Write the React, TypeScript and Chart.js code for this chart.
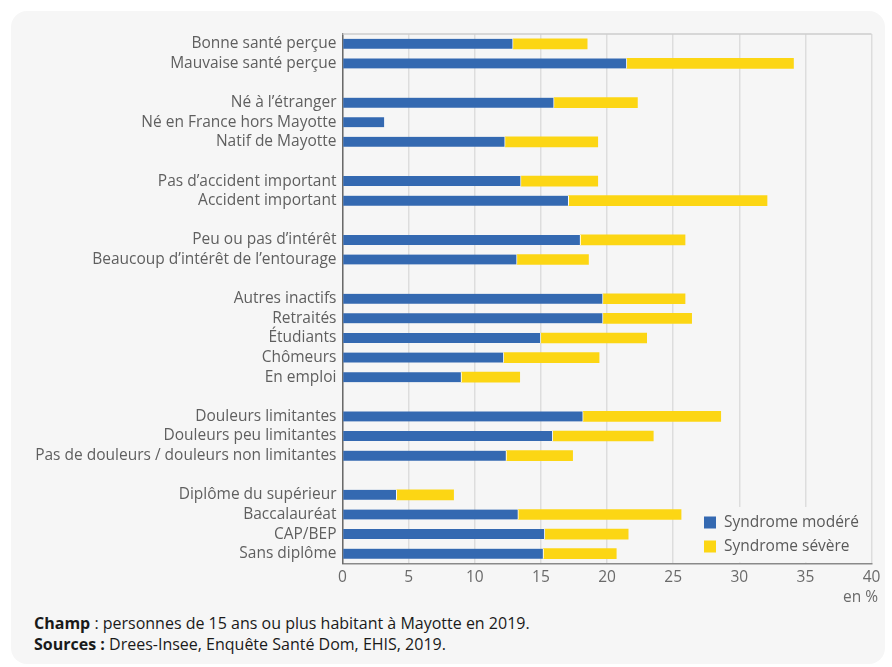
import React, { useEffect, useRef } from "react";
import { Chart, registerables } from "chart.js";

Chart.register(...registerables);

const categories: string[] = [
  "Bonne santé perçue",
  "Mauvaise santé perçue",
  "",
  "Né à l’étranger",
  "Né en France hors Mayotte",
  "Natif de Mayotte",
  "",
  "Pas d’accident important",
  "Accident important",
  "",
  "Peu ou pas d’intérêt",
  "Beaucoup d’intérêt de l’entourage",
  "",
  "Autres inactifs",
  "Retraités",
  "Étudiants",
  "Chômeurs",
  "En emploi",
  "",
  "Douleurs limitantes",
  "Douleurs peu limitantes",
  "Pas de douleurs / douleurs non limitantes",
  "",
  "Diplôme du supérieur",
  "Baccalauréat",
  "CAP/BEP",
  "Sans diplôme",
];

const modere: (number | null)[] = [
  12.9, 21.5, null,
  16.0, 3.2, 12.3, null,
  13.5, 17.1, null,
  18.0, 13.2, null,
  19.7, 19.7, 15.0, 12.2, 9.0, null,
  18.2, 15.9, 12.4, null,
  4.1, 13.3, 15.3, 15.2,
];

const severe: (number | null)[] = [
  5.6, 12.6, null,
  6.3, null, 7.0, null,
  5.8, 15.0, null,
  7.9, 5.4, null,
  6.2, 6.7, 8.0, 7.2, 4.4, null,
  10.4, 7.6, 5.0, null,
  4.3, 12.3, 6.3, 5.5,
];

const seriesNames = ["Syndrome modéré", "Syndrome sévère"];
const xTicks = [0, 5, 10, 15, 20, 25, 30, 35, 40];

const BLUE = "#3469b1";
const YELLOW = "#fcd614";
const PANEL = "#f6f6f6";
const FONT = "'Open Sans', 'Noto Sans', sans-serif";

export default function App() {
  const ref = useRef<HTMLCanvasElement | null>(null);

  useEffect(() => {
    if (!ref.current) return;
    const frame = {
      id: "frame",
      beforeDatasetsDraw(chart: any) {
        const { ctx, chartArea } = chart;
        ctx.save();
        ctx.strokeStyle = "#cccccc";
        ctx.lineWidth = 1.5;
        ctx.beginPath();
        ctx.moveTo(chartArea.left, chartArea.top);
        ctx.lineTo(chartArea.right, chartArea.top);
        ctx.stroke();
        ctx.fillStyle = PANEL;
        ctx.fillRect(699, 507, chartArea.right - 1 - 699, chartArea.bottom - 1 - 507);
        ctx.restore();
      },
      afterDatasetsDraw(chart: any) {
        const { ctx } = chart;
        ctx.save();
        const colors = [BLUE, YELLOW];
        ctx.font = `15.5px ${FONT}`;
        ctx.textBaseline = "middle";
        ctx.textAlign = "left";
        seriesNames.forEach((name, i) => {
          const y = 522.5 + i * 24;
          ctx.fillStyle = colors[i];
          ctx.fillRect(704, y - 6, 12, 12);
          ctx.fillStyle = "#5a5a5a";
          ctx.fillText(name, 724, y);
        });
        ctx.restore();
      },
    };

    const chart = new Chart(ref.current, {
      type: "bar",
      data: {
        labels: categories,
        datasets: [
          {
            label: seriesNames[0],
            data: modere,
            backgroundColor: BLUE,
            borderColor: "#ffffff",
            borderWidth: { top: 0, bottom: 0, left: 0, right: 1 },
            borderSkipped: false,
            barThickness: 10,
          },
          {
            label: seriesNames[1],
            data: severe,
            backgroundColor: YELLOW,
            borderWidth: 0,
            barThickness: 10,
          },
        ],
      },
      options: {
        indexAxis: "y",
        animation: false,
        responsive: false,
        maintainAspectRatio: false,
        layout: { padding: { top: 34, right: 20.5, bottom: 6.5, left: 0 } },
        plugins: {
          legend: { display: false },
          tooltip: { enabled: false },
        },
        scales: {
          x: {
            stacked: true,
            min: 0,
            max: 40,
            afterBuildTicks(scale: any) {
              scale.ticks = xTicks.map((v) => ({ value: v }));
            },
            afterFit(scale: any) {
              scale.height = 30;
            },
            grid: {
              color: "#dddddd",
              lineWidth: 1.5,
              drawTicks: false,
            },
            border: { color: "#8a8a8a", width: 1.5 },
            ticks: {
              color: "#6a6a6a",
              font: { family: FONT, size: 15.5 },
              padding: 5,
            },
          },
          y: {
            stacked: true,
            afterFit(scale: any) {
              scale.width = 342.5;
            },
            grid: { display: false, drawTicks: false },
            border: { color: "#6a6a6a", width: 1.5 },
            ticks: {
              color: "#5f5f5f",
              font: { family: FONT, size: 15.5 },
              padding: 6,
              autoSkip: false,
            },
          },
        },
      },
      plugins: [frame],
    } as any);
    return () => chart.destroy();
  }, []);

  return (
    <div
      style={{
        position: "absolute",
        left: 0,
        top: 0,
        width: 892,
        height: 667,
        background: "#ffffff",
        overflow: "hidden",
        fontFamily: FONT,
      }}
    >
      <div
        style={{
          position: "absolute",
          left: 11,
          top: 11,
          width: 874,
          height: 653,
          background: PANEL,
          borderRadius: 16,
        }}
      />
      <canvas
        ref={ref}
        width={892}
        height={600}
        style={{ position: "absolute", left: 0, top: 0, width: 892, height: 600 }}
      />
      <div
        style={{
          position: "absolute",
          right: 14,
          top: 586,
          fontSize: 15.5,
          lineHeight: "20px",
          color: "#6a6a6a",
        }}
      >
        en %
      </div>
      <div
        style={{
          position: "absolute",
          left: 34,
          top: 613,
          fontSize: 16,
          lineHeight: "21px",
          color: "#1a1a1a",
        }}
      >
        <div>
          <b>Champ</b> : personnes de 15 ans ou plus habitant à Mayotte en 2019.
        </div>
        <div>
          <b>Sources :</b> Drees-Insee, Enquête Santé Dom, EHIS, 2019.
        </div>
      </div>
    </div>
  );
}
